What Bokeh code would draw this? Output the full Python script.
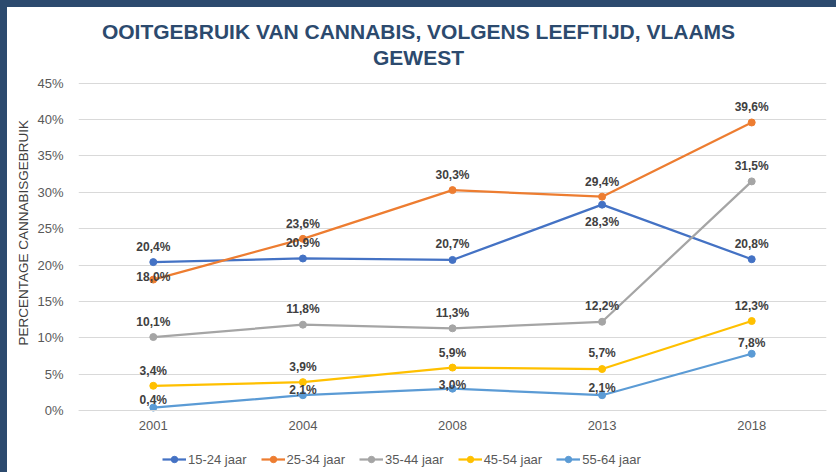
from bokeh.plotting import figure
from bokeh.models import (FactorRange, Range1d, FixedTicker, PrintfTickFormatter,
                          ColumnDataSource, Legend, LegendItem, Label, Title,
                          GlobalInlineStyleSheet)
from bokeh.core.properties import value
from bokeh.embed import file_html
from bokeh.resources import INLINE

# ---------------- data ----------------
years = ["2001", "2004", "2008", "2013", "2018"]
series_names = ["15-24 jaar", "25-34 jaar", "35-44 jaar", "45-54 jaar", "55-64 jaar"]
v_15_24 = [20.4, 20.9, 20.7, 28.3, 20.8]
v_25_34 = [18.0, 23.6, 30.3, 29.4, 39.6]
v_35_44 = [10.1, 11.8, 11.3, 12.2, 31.5]
v_45_54 = [3.4, 3.9, 5.9, 5.7, 12.3]
v_55_64 = [0.4, 2.1, 3.0, 2.1, 7.8]
y_ticks = [0, 5, 10, 15, 20, 25, 30, 35, 40, 45]

title_line1 = "OOITGEBRUIK VAN CANNABIS, VOLGENS LEEFTIJD, VLAAMS"
title_line2 = "GEWEST"
y_title = "PERCENTAGE CANNABISGEBRUIK"

# ---------------- styles / layout ----------------
colors = ["#4472C4", "#ED7D31", "#A5A5A5", "#FFC000", "#5B9BD5"]
# data-label offsets in screen px (positive = downwards)
label_offsets = [
    [-15, -15.5, -15.5, 17, -15.5],
    [-3, -15, -15, -15, -15.5],
    [-15, -16, -15, -16, -15.5],
    [-15, -15, -15, -16, -15.5],
    [-8, -5, -4, -7, -10.5],
]
FONT = "Liberation Sans"
DARK = "#2c4a6e"
all_series = [v_15_24, v_25_34, v_35_44, v_45_54, v_55_64]

W, H = 829, 465
FRAME_L, FRAME_R = 71, 10
PX_PER_UNIT = 327.3 / 45.0      # 0%..45% spans 327 px
ZERO_Y = 403                    # pixel row of 0% inside the figure
y_top = ZERO_Y / PX_PER_UNIT
y_bottom = -(H - ZERO_Y) / PX_PER_UNIT

# dark strips along the top and left edge of the page, white elsewhere
page_css = GlobalInlineStyleSheet(css=f"""
html, body {{
  background:
    linear-gradient({DARK}, {DARK}) 0 0 / 100% 7px no-repeat,
    linear-gradient({DARK}, {DARK}) 0 0 / 7px 100% no-repeat,
    #ffffff !important;
}}
body {{ padding: 7px 0 0 7px !important; margin: 0 !important; overflow: hidden; }}
""")

p = figure(width=W, height=H, x_range=FactorRange(factors=years),
           y_range=Range1d(y_bottom, y_top), output_backend="svg",
           toolbar_location=None, title=None,
           min_border_left=FRAME_L, min_border_right=FRAME_R,
           min_border_top=0, min_border_bottom=0)
p.stylesheets = [page_css]
p.styles = {"background-color": "white"}
p.background_fill_color = "white"
p.border_fill_color = "white"
p.outline_line_color = None

p.xgrid.grid_line_color = None
p.ygrid.grid_line_color = "#d9d9d9"
p.ygrid.grid_line_width = 1

p.yaxis.ticker = FixedTicker(ticks=y_ticks)
p.yaxis.formatter = PrintfTickFormatter(format="%d%%")
for ax in (p.xaxis, p.yaxis):
    ax.major_tick_line_color = None
    ax.minor_tick_line_color = None
    ax.major_label_text_font = FONT
    ax.major_label_text_font_size = "13px"
    ax.major_label_text_color = "#595959"
p.yaxis.axis_line_color = None
p.yaxis.major_label_standoff = 9

p.xaxis.fixed_location = 0
p.xaxis.axis_line_color = "#d9d9d9"
p.xaxis.major_label_standoff = 4

# vertical axis title (left panel), starting 127 px above the frame bottom
p.add_layout(Title(text=y_title, align="left", offset=127, standoff=8,
                   text_font=FONT, text_font_size="13.5px", text_font_style="normal",
                   text_color="#404040"), "left")

items = []
for name, vals, col in zip(series_names, all_series, colors):
    lr = p.line(x=years, y=vals, line_color=col, line_width=2.25)
    sr = p.scatter(x=years, y=vals, size=7, fill_color=col, line_color=col)
    items.append(LegendItem(label=name, renderers=[lr, sr]))

lx, ly, lt, lo = [], [], [], []
for vals, offs in zip(all_series, label_offsets):
    for yr, v, o in zip(years, vals, offs):
        lx.append(yr)
        ly.append(v)
        lt.append(f"{v:.1f}".replace(".", ",") + "%")
        lo.append(o)
src = ColumnDataSource(data=dict(x=lx, y=ly, text=lt, off=lo))
p.text(x="x", y="y", text="text", y_offset="off", source=src,
       text_align="center", text_baseline="middle",
       text_font=value(FONT), text_font_style="bold",
       text_font_size="12px", text_color="#404040")

# chart title, two centred lines (screen units relative to the frame's bottom-left)
for txt, yy in ((title_line1, 441), (title_line2, 415)):
    p.add_layout(Label(x=340, y=yy, x_units="screen", y_units="screen", text=txt,
                       text_align="center", text_baseline="middle",
                       text_font=FONT, text_font_style="bold",
                       text_font_size="21px", text_color=DARK))

legend = Legend(items=items, orientation="horizontal", location=(84, 5),
                padding=0, margin=0, spacing=14, glyph_width=24, glyph_height=16,
                label_height=16, label_standoff=2, label_text_font=FONT,
                label_text_font_size="13px", label_text_color="#595959",
                border_line_color=None, background_fill_alpha=0)
p.add_layout(legend)

open("out.html", "w").write(file_html(p, INLINE))
